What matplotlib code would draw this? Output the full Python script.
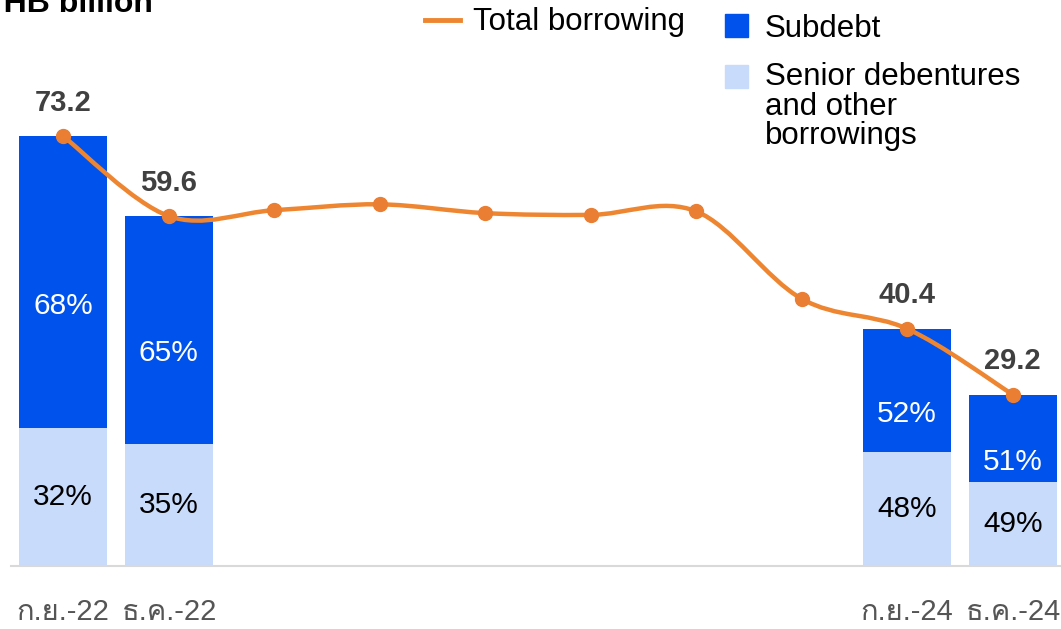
import matplotlib
matplotlib.use("Agg")
import matplotlib.pyplot as plt
from matplotlib import font_manager
from matplotlib.ft2font import FT2Font
from matplotlib.path import Path
from matplotlib.patches import PathPatch, Rectangle
from matplotlib.lines import Line2D

# quarterly data, only four quarters carry bars and tick labels
months = ['ก.ย.-22', 'ธ.ค.-22', '', '', '', '', '', '', 'ก.ย.-24', 'ธ.ค.-24']
total = [73.2, 59.6, 60.6, 61.6, 60.1, 59.8, 60.4, 45.5, 40.4, 29.2]
bar_idx = [0, 1, 8, 9]
subdebt_pct = [68, 65, 52, 51]
senior_pct = [32, 35, 48, 49]

BLUE = '#0052EC'
LIGHT = '#C9DBFB'
ORANGE = '#EE8530'
DOT = '#EA7E33'
GREY = '#404040'


def find_thai_font():
    for f in font_manager.fontManager.ttflist:
        try:
            cm = FT2Font(f.fname).get_charmap()
        except Exception:
            continue
        if 0x0E01 in cm and 0x0E22 in cm:
            return f.name
    return None


thai = find_thai_font()
plt.rcParams['font.family'] = ['Liberation Sans'] + ([thai] if thai else []) + ['DejaVu Sans']

W, H = 1061, 629
fig = plt.figure(figsize=(W / 100, H / 100), dpi=100)
# axes spans slightly past the right edge, last bar gets clipped
ax = fig.add_axes([10.5 / W, 63 / H, 1055 / W, 566 / H])
ax.set_xlim(-0.5, 9.5)
ax.set_ylim(0, 96.4)

for k, i in enumerate(bar_idx):
    lo = total[i] * senior_pct[k] / 100
    hi = total[i] - lo
    ax.bar(i, lo, width=0.835, color=LIGHT, zorder=2)
    ax.bar(i, hi, bottom=lo, width=0.835, color=BLUE, zorder=2)
    ax.annotate(f'{senior_pct[k]}%', (i, lo / 2), ha='center', va='center',
                fontsize=21.5, color='black', zorder=5)
    ax.annotate(f'{subdebt_pct[k]}%', (i, lo + hi / 2), xytext=(0, -17),
                textcoords='offset points', ha='center', va='center',
                fontsize=21.5, color='white', zorder=5)
    ax.annotate(f'{total[i]}', (i, total[i]), xytext=(0, 24),
                textcoords='offset points', ha='center', va='center',
                fontsize=21, fontweight='bold', color=GREY, zorder=5)

# smoothed total line (Catmull-Rom as cubic Bezier segments)
xs = list(range(len(total)))
pts = list(zip(xs, total))
verts = [pts[0]]
codes = [Path.MOVETO]
for j in range(len(pts) - 1):
    p0 = pts[j - 1] if j > 0 else pts[j]
    p1 = pts[j]
    p2 = pts[j + 1]
    p3 = pts[j + 2] if j + 2 < len(pts) else pts[j + 1]
    c1 = (p1[0] + (p2[0] - p0[0]) / 6, p1[1] + (p2[1] - p0[1]) / 6)
    c2 = (p2[0] - (p3[0] - p1[0]) / 6, p2[1] - (p3[1] - p1[1]) / 6)
    verts += [c1, c2, p2]
    codes += [Path.CURVE4] * 3
ax.add_patch(PathPatch(Path(verts, codes), fill=False, edgecolor=ORANGE,
                       lw=3.2, capstyle='round', zorder=3))
ax.plot(xs, total, 'o', color=DOT, ms=10, zorder=4)

ax.set_xticks(xs)
ax.set_xticklabels(months, fontsize=21, color='#555555')
ax.tick_params(axis='x', length=0, pad=23)
ax.set_yticks([])
for s in ['top', 'right', 'left']:
    ax.spines[s].set_visible(False)
ax.spines['bottom'].set_color('#D9D9D9')
ax.spines['bottom'].set_linewidth(1.5)

# title partly cut by the top edge
fig.text(-16 / W, 1 - 12 / H, 'THB billion', fontsize=23, fontweight='bold',
         va='baseline', ha='left')

# hand-placed legend
fig.add_artist(Line2D([425 / W, 460 / W], [1 - 20 / H, 1 - 20 / H],
                      color=ORANGE, lw=3.5, transform=fig.transFigure))
fig.text(473 / W, 1 - 22 / H, 'Total borrowing', fontsize=22.5, va='center')
fig.add_artist(Rectangle((725 / W, 1 - 37 / H), 23 / W, 23 / H, color=BLUE,
                         transform=fig.transFigure))
fig.text(765 / W, 1 - 29 / H, 'Subdebt', fontsize=22.5, va='center')
fig.add_artist(Rectangle((725 / W, 1 - 88 / H), 23 / W, 23 / H, color=LIGHT,
                         transform=fig.transFigure))
fig.text(765 / W, 1 - 62 / H, 'Senior debentures\nand other\nborrowings',
         fontsize=22.5, va='top', linespacing=0.98)

fig.savefig('out.png', dpi=100)
